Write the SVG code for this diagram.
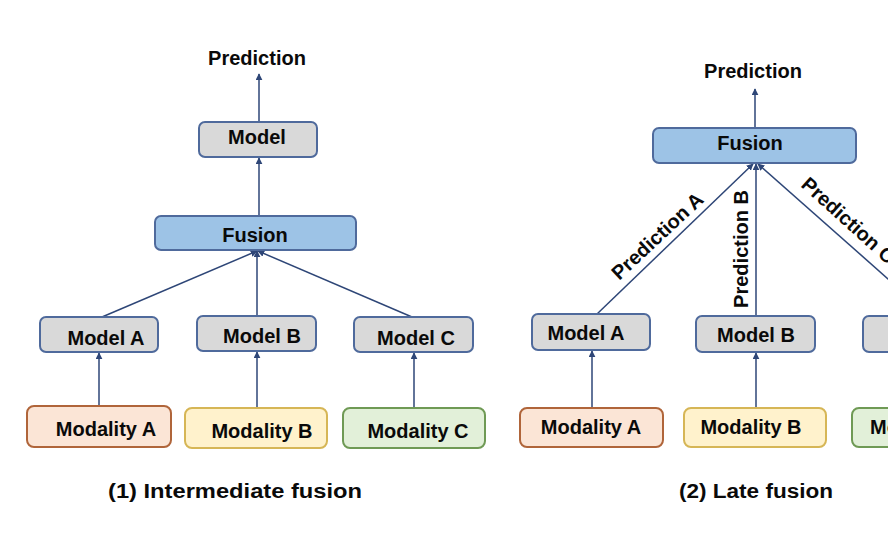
<svg xmlns="http://www.w3.org/2000/svg" width="888" height="539" viewBox="0 0 888 539">
<defs>
<marker id="ah" viewBox="0 0 10 10" refX="9" refY="5" markerWidth="7" markerHeight="7" markerUnits="userSpaceOnUse" orient="auto">
<path d="M0,0 L10,5 L0,10 z" fill="#2e4677"/>
</marker>
<style>
.box{stroke-width:2}
.gray{fill:#d9d9d9;stroke:#4f6a9c}
.fus{fill:#9dc3e6;stroke:#4f6a9c}
.ma{fill:#fbe5d6;stroke:#b0653a}
.mb{fill:#fff2cc;stroke:#d6b656}
.mc{fill:#e2f0d9;stroke:#6f9a55}
.t{font-family:"Liberation Sans",Arial,sans-serif;font-weight:bold;font-size:20px;fill:#0a0a0a;text-anchor:middle}
.cap{font-family:"Liberation Sans",Arial,sans-serif;font-weight:bold;font-size:20px;fill:#0a0a0a}
.c{stroke:#2e4677;stroke-width:1.5;fill:none;marker-end:url(#ah)}
</style>
</defs>
<rect width="888" height="539" fill="#fff"/>

<g id="connectors">
<line class="c" x1="259" y1="122" x2="259" y2="74"/>
<line class="c" x1="259" y1="216" x2="259" y2="158"/>
<line class="c" x1="102" y1="317" x2="257" y2="251"/>
<line class="c" x1="257" y1="316" x2="257" y2="251"/>
<line class="c" x1="412" y1="317" x2="258" y2="251"/>
<line class="c" x1="99" y1="406" x2="99" y2="353"/>
<line class="c" x1="257" y1="408" x2="257" y2="352"/>
<line class="c" x1="414" y1="408" x2="414" y2="353"/>

<line class="c" x1="755" y1="128" x2="755" y2="89"/>
<line class="c" x1="597" y1="314" x2="753" y2="164"/>
<line class="c" x1="756" y1="316" x2="756" y2="164"/>
<line class="c" x1="930" y1="316" x2="758" y2="164"/>
<line class="c" x1="592" y1="408" x2="592" y2="351"/>
<line class="c" x1="756" y1="408" x2="756" y2="353"/>
</g>

<g id="left-prediction"><text class="t" x="257" y="65">Prediction</text></g>
<g id="left-model"><rect class="box gray" x="199" y="122" width="118" height="35" rx="6"/><text class="t" x="257" y="144">Model</text></g>
<g id="left-fusion"><rect class="box fus" x="155" y="216" width="201" height="34" rx="6"/><text class="t" x="255" y="242">Fusion</text></g>
<g id="left-model-a"><rect class="box gray" x="40" y="317" width="118" height="35" rx="6"/><text class="t" x="106" y="345">Model A</text></g>
<g id="left-model-b"><rect class="box gray" x="197" y="316" width="119" height="35" rx="6"/><text class="t" x="262" y="343">Model B</text></g>
<g id="left-model-c"><rect class="box gray" x="354" y="317" width="119" height="35" rx="6"/><text class="t" x="416" y="345">Model C</text></g>
<g id="left-modality-a"><rect class="box ma" x="27" y="406" width="144" height="41" rx="7"/><text class="t" x="106" y="436">Modality A</text></g>
<g id="left-modality-b"><rect class="box mb" x="185" y="408" width="142" height="40" rx="7"/><text class="t" x="262" y="438">Modality B</text></g>
<g id="left-modality-c"><rect class="box mc" x="343" y="408" width="142" height="40" rx="7"/><text class="t" x="418" y="438">Modality C</text></g>
<g id="caption-1"><text class="cap" x="108" y="498" textLength="254" lengthAdjust="spacingAndGlyphs">(1) Intermediate fusion</text></g>

<g id="right-prediction"><text class="t" x="753" y="78">Prediction</text></g>
<g id="right-fusion"><rect class="box fus" x="653" y="128" width="203" height="35" rx="6"/><text class="t" x="750" y="150">Fusion</text></g>
<g id="right-model-a"><rect class="box gray" x="532" y="314" width="118" height="36" rx="6"/><text class="t" x="586" y="340">Model A</text></g>
<g id="right-model-b"><rect class="box gray" x="696" y="316" width="119" height="36" rx="6"/><text class="t" x="756" y="342">Model B</text></g>
<g id="right-model-c"><rect class="box gray" x="863" y="316" width="119" height="36" rx="6"/></g>
<g id="right-modality-a"><rect class="box ma" x="520" y="408" width="143" height="39" rx="7"/><text class="t" x="591" y="434">Modality A</text></g>
<g id="right-modality-b"><rect class="box mb" x="684" y="408" width="142" height="39" rx="7"/><text class="t" x="751" y="434">Modality B</text></g>
<g id="right-modality-c"><rect class="box mc" x="852" y="408" width="142" height="39" rx="7"/><text class="t" x="870" y="434" style="text-anchor:start">Modality C</text></g>
<g id="labels">
<text class="t" transform="translate(662,241) rotate(-43)">Prediction A</text>
<text class="t" transform="translate(748,249) rotate(-90)">Prediction B</text>
<text class="t" style="text-anchor:start" transform="translate(800,186) rotate(42)">Prediction C</text>
</g>
<g id="caption-2"><text class="cap" x="679" y="498" textLength="154" lengthAdjust="spacingAndGlyphs">(2) Late fusion</text></g>
</svg>
